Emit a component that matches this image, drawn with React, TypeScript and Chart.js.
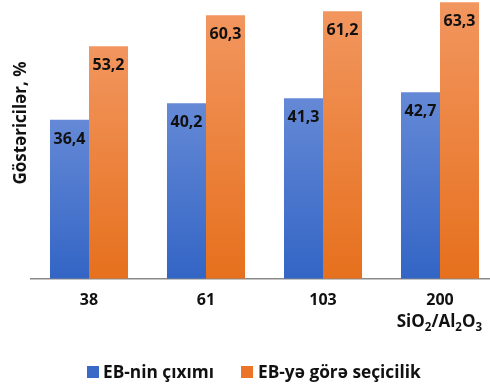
import React, { useEffect, useRef } from "react";
import { Chart, registerables } from "chart.js";

Chart.register(...registerables);

// SiO2/Al2O3 ratio of the catalyst
const categories = ["38", "61", "103", "200"];
// EB yield, %
const yieldEB = [36.4, 40.2, 41.3, 42.7];
// Selectivity towards EB, %
const selectivityEB = [53.2, 60.3, 61.2, 63.3];
const seriesNames = ["EB-nin çıxımı", "EB-yə görə seçicilik"];
const yAxisTitle = "Göstəricilər, %";

const FONT = '"Open Sans", sans-serif';
const BLUE_TOP = "#6589d6";
const BLUE_BOTTOM = "#3365c5";
const ORANGE_TOP = "#f2965f";
const ORANGE_BOTTOM = "#e6701d";

const fmt = (v: number) => v.toFixed(1).replace(".", ",");

function barGradient(top: string, bottom: string) {
  return (ctx: any) => {
    const chart = ctx.chart;
    const yScale = chart.scales?.y;
    if (!chart.chartArea || !yScale || ctx.type !== "data") return bottom;
    const yTop = yScale.getPixelForValue(ctx.raw);
    const yBot = yScale.getPixelForValue(0);
    const g = chart.ctx.createLinearGradient(0, yTop, 0, yBot);
    g.addColorStop(0, top);
    g.addColorStop(1, bottom);
    return g;
  };
}

const valueLabels = {
  id: "valueLabels",
  afterDatasetsDraw(chart: any) {
    const c = chart.ctx;
    c.save();
    c.font = `bold 16px ${FONT}`;
    c.fillStyle = "#111111";
    c.textAlign = "center";
    c.textBaseline = "alphabetic";
    chart.data.datasets.forEach((ds: any, di: number) => {
      const meta = chart.getDatasetMeta(di);
      meta.data.forEach((bar: any, i: number) => {
        const { x, y } = bar.getProps(["x", "y"], true);
        c.fillText(fmt(ds.data[i]), x, y + 24);
      });
    });
    c.restore();
  },
};

const decorations = {
  id: "decorations",
  afterDraw(chart: any) {
    const c = chart.ctx;
    c.save();
    c.fillStyle = "#111111";

    // vertical axis title
    c.save();
    c.translate(25.5, 123);
    c.rotate(-Math.PI / 2);
    c.font = `bold 17px ${FONT}`;
    c.textAlign = "center";
    c.textBaseline = "alphabetic";
    c.fillText(yAxisTitle, 0, 0);
    c.restore();

    // SiO2/Al2O3 caption under the last category
    const xs = chart.scales.x;
    const last = xs.getPixelForValue(categories.length - 1);
    const parts: [string, boolean][] = [
      ["SiO", false], ["2", true], ["/Al", false], ["2", true], ["O", false], ["3", true],
    ];
    const mainFont = `bold 17px ${FONT}`;
    const subFont = `bold 11.5px ${FONT}`;
    let total = 0;
    parts.forEach(([t, sub]) => {
      c.font = sub ? subFont : mainFont;
      total += c.measureText(t).width;
    });
    let px = last + 42 - total;
    c.textAlign = "left";
    c.textBaseline = "alphabetic";
    parts.forEach(([t, sub]) => {
      c.font = sub ? subFont : mainFont;
      c.fillText(t, px, sub ? 331 : 327);
      px += c.measureText(t).width;
    });

    // legend
    const items = [
      { box: 87, text: 103, color: "#3b69c8", label: seriesNames[0] },
      { box: 241, text: 258, color: "#ec7428", label: seriesNames[1] },
    ];
    c.font = `bold 17.3px ${FONT}`;
    items.forEach((it) => {
      c.fillStyle = it.color;
      c.fillRect(it.box, 366, 12, 12);
      c.fillStyle = "#111111";
      c.fillText(it.label, it.text, 378);
    });
    c.restore();
  },
};

export default function App() {
  const ref = useRef<HTMLCanvasElement | null>(null);

  useEffect(() => {
    if (!ref.current) return;
    const chart = new Chart(ref.current, {
      type: "bar",
      data: {
        labels: categories,
        datasets: [
          {
            label: seriesNames[0],
            data: yieldEB,
            backgroundColor: barGradient(BLUE_TOP, BLUE_BOTTOM),
            borderWidth: 0,
          },
          {
            label: seriesNames[1],
            data: selectivityEB,
            backgroundColor: barGradient(ORANGE_TOP, ORANGE_BOTTOM),
            borderWidth: 0,
          },
        ],
      },
      options: {
        responsive: false,
        animation: false,
        devicePixelRatio: 1,
        layout: { padding: { left: 30.5, right: 1.5, top: 0, bottom: 64 } },
        datasets: { bar: { categoryPercentage: 0.667, barPercentage: 1 } },
        plugins: {
          legend: { display: false },
          tooltip: { enabled: false },
          title: { display: false },
        },
        scales: {
          x: {
            grid: { display: false, drawTicks: false },
            border: { display: true, color: "#8a8a8a", width: 1.5 },
            ticks: {
              font: { family: FONT, size: 16, weight: "bold" },
              color: "#111111",
              padding: 12,
            },
          },
          y: {
            display: false,
            min: 0,
            max: 63.8,
          },
        },
      },
      plugins: [valueLabels, decorations],
    });
    return () => chart.destroy();
  }, []);

  return (
    <div
      style={{
        position: "fixed",
        left: 0,
        top: 0,
        width: 490,
        height: 386,
        overflow: "hidden",
        background: "#ffffff",
      }}
    >
      <canvas ref={ref} width={500} height={386} style={{ width: 500, height: 386, display: "block" }} />
    </div>
  );
}
